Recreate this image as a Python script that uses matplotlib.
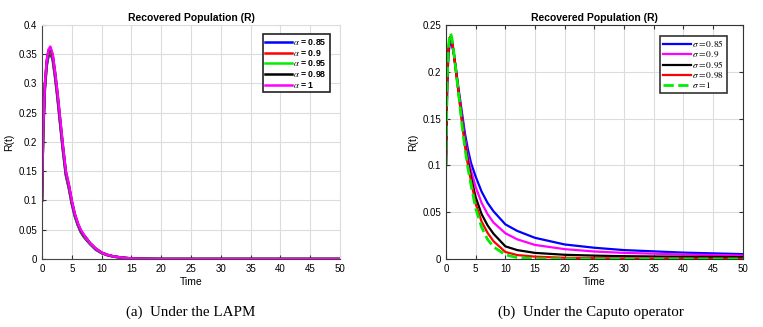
import numpy as np
import matplotlib
matplotlib.use("Agg")
import matplotlib.pyplot as plt

plt.rcParams['font.family'] = ['Liberation Sans', 'DejaVu Sans']
plt.rcParams['mathtext.fontset'] = 'stix'

# (a) LAPM - recovered population, alpha = 0.85 ... 1
t_a = [0, 0.2, 0.5, 0.8, 1.1, 1.4, 1.8, 2.2, 2.6, 3.0, 3.5, 4.0, 4.5, 5.0, 5.5, 6.0,
       6.5, 7.0, 7.5, 8.0, 9.0, 10, 11, 12, 13, 14, 15, 17, 20, 30, 40, 50]
R_a085 = [0.1, 0.215, 0.292, 0.33, 0.347, 0.352, 0.34, 0.31, 0.275, 0.235, 0.186, 0.143, 0.121, 0.094,
          0.073, 0.058, 0.046, 0.038, 0.032, 0.026, 0.016, 0.01, 0.0063, 0.004, 0.0026, 0.0016, 0.0009,
          0.0003, 0, 0, 0, 0]
R_a09 = [0.1, 0.217, 0.295, 0.333, 0.351, 0.355, 0.343, 0.313, 0.278, 0.238, 0.189, 0.146, 0.123, 0.096,
         0.075, 0.059, 0.047, 0.039, 0.033, 0.027, 0.017, 0.0104, 0.0066, 0.0042, 0.0027, 0.0017, 0.0009,
         0.0003, 0, 0, 0, 0]
R_a095 = [0.1, 0.218, 0.297, 0.336, 0.354, 0.358, 0.346, 0.316, 0.281, 0.241, 0.192, 0.148, 0.125, 0.098,
          0.076, 0.06, 0.048, 0.04, 0.034, 0.027, 0.0175, 0.0107, 0.0068, 0.0044, 0.0029, 0.0017, 0.001,
          0.0003, 0, 0, 0, 0]
R_a098 = [0.1, 0.219, 0.299, 0.338, 0.356, 0.361, 0.348, 0.318, 0.283, 0.243, 0.194, 0.149, 0.127, 0.099,
          0.077, 0.061, 0.049, 0.041, 0.035, 0.028, 0.018, 0.011, 0.007, 0.0045, 0.003, 0.0018, 0.001,
          0.0003, 0, 0, 0, 0]
R_a1 = [0.1, 0.22, 0.3, 0.34, 0.358, 0.363, 0.35, 0.32, 0.285, 0.245, 0.196, 0.151, 0.128, 0.1,
        0.078, 0.062, 0.05, 0.042, 0.035, 0.028, 0.018, 0.011, 0.007, 0.0045, 0.003, 0.0018, 0.001,
        0.0003, 0, 0, 0, 0]

# (b) Caputo - recovered population, sigma = 0.85 ... 1
t_b = [0, 0.2, 0.4, 0.6, 0.8, 1.0, 1.3, 1.7, 2.2, 2.7, 3.2, 3.7, 4.2, 5, 6, 7, 8, 10, 12, 15,
       20, 25, 30, 40, 50]
R_s085 = [0.1, 0.184, 0.217, 0.228, 0.230, 0.229, 0.22, 0.202, 0.178, 0.156, 0.134, 0.117, 0.103,
          0.088, 0.072, 0.06, 0.051, 0.037, 0.03, 0.0226, 0.0155, 0.012, 0.0095, 0.0068, 0.0052]
R_s09 = [0.1, 0.186, 0.22, 0.231, 0.233, 0.231, 0.221, 0.201, 0.176, 0.152, 0.129, 0.11, 0.095,
         0.077, 0.06, 0.048, 0.039, 0.0275, 0.021, 0.015, 0.0105, 0.008, 0.0065, 0.0048, 0.0037]
R_s095 = [0.1, 0.188, 0.222, 0.234, 0.236, 0.233, 0.221, 0.2, 0.174, 0.148, 0.124, 0.104, 0.088,
          0.066, 0.048, 0.036, 0.027, 0.0135, 0.0095, 0.0065, 0.0045, 0.0036, 0.003, 0.0024, 0.002]
R_s098 = [0.1, 0.19, 0.224, 0.236, 0.238, 0.234, 0.221, 0.2, 0.173, 0.146, 0.121, 0.1, 0.084,
          0.059, 0.04, 0.028, 0.019, 0.0075, 0.0042, 0.0025, 0.0013, 0.0009, 0.0006, 0.0004, 0.0003]
R_s1 = [0.1, 0.19, 0.225, 0.238, 0.241, 0.236, 0.222, 0.2, 0.172, 0.143, 0.118, 0.097, 0.08,
        0.054, 0.034, 0.021, 0.013, 0.0045, 0.0015, 0.0004, 0.0001, 0, 0, 0, 0]

labels_a = ['0.85', '0.9', '0.95', '0.98', '1']
labels_b = ['0.85', '0.9', '0.95', '0.98', '1']

fig = plt.figure(figsize=(7.63, 3.27), dpi=100)
ax1 = fig.add_axes([0.055, 0.208, 0.3906, 0.7156])
ax2 = fig.add_axes([0.5845, 0.208, 0.389, 0.7156])

grid_col = '#dcdcdc'
for ax in (ax1, ax2):
    ax.set_xlim(0, 50)
    ax.set_xticks(np.arange(0, 51, 5))
    ax.grid(True, color=grid_col, linewidth=0.8)
    ax.set_axisbelow(True)
    ax.tick_params(labelsize=7, direction='in', length=3, color='#333333', pad=3.5)
    ax.set_xlabel('Time', fontsize=7.5, labelpad=2.5)
    ax.set_ylabel('R(t)', fontsize=7.5, labelpad=3)
    ax.set_title('Recovered Population (R)', fontsize=7.5, fontweight='bold', pad=3)

# left panel
cols_a = ['blue', 'red', '#00ee00', 'black', 'magenta']
series_a = [R_a085, R_a09, R_a095, R_a098, R_a1]
for ys, c, lab in zip(series_a, cols_a, labels_a):
    ax1.plot(t_a, ys, color=c, lw=1.8, label=r'$\alpha$ = ' + lab)
ax1.set_ylim(0, 0.4)
ax1.set_yticks(np.arange(0, 0.41, 0.05))
ax1.set_yticklabels(['0', '0.05', '0.1', '0.15', '0.2', '0.25', '0.3', '0.35', '0.4'])
ax1.set_xticklabels([str(v) for v in range(0, 51, 5)])
for s in ('top', 'right'):
    ax1.spines[s].set_color(grid_col)
for s in ('left', 'bottom'):
    ax1.spines[s].set_color('#444444')
leg1 = ax1.legend(loc='upper right', prop={'weight': 'bold', 'size': 6.3},
                  handlelength=3.0, handletextpad=0.2, labelspacing=0.08,
                  borderpad=0.3, borderaxespad=0, fancybox=False, framealpha=1,
                  bbox_to_anchor=(0.965, 0.96))
leg1.get_frame().set_edgecolor('#222222')
leg1.get_frame().set_linewidth(1.2)

# right panel
cols_b = ['blue', 'magenta', 'black', 'red', '#00ee00']
series_b = [R_s085, R_s09, R_s095, R_s098, R_s1]
for ys, c, lab in zip(series_b, cols_b, labels_b):
    ls = '--' if lab == '1' else '-'
    ax2.plot(t_b, ys, color=c, lw=2.0 if lab == '1' else 1.6, ls=ls,
             label=r'$\sigma = ' + lab + '$')
ax2.set_ylim(0, 0.25)
ax2.set_yticks(np.arange(0, 0.251, 0.05))
ax2.set_yticklabels(['0', '0.05', '0.1', '0.15', '0.2', '0.25'])
ax2.set_xticklabels([str(v) for v in range(0, 51, 5)])
ax2.tick_params(top=True, right=True)
for s in ax2.spines.values():
    s.set_color('#333333')
leg2 = ax2.legend(loc='upper right', fontsize=6.8, handlelength=2.9,
                  handletextpad=0.2, labelspacing=0.0, borderpad=0.3,
                  borderaxespad=0, fancybox=False, framealpha=1,
                  bbox_to_anchor=(0.948, 0.955))
leg2.get_frame().set_edgecolor('#333333')
leg2.get_frame().set_linewidth(1.2)

fig.text(0.25, 0.045, '(a)  Under the LAPM', ha='center', va='center',
         fontsize=10.8, family='Liberation Serif')
fig.text(0.775, 0.045, '(b)  Under the Caputo operator', ha='center', va='center',
         fontsize=10.8, family='Liberation Serif')

fig.savefig('out.png', dpi=100)
